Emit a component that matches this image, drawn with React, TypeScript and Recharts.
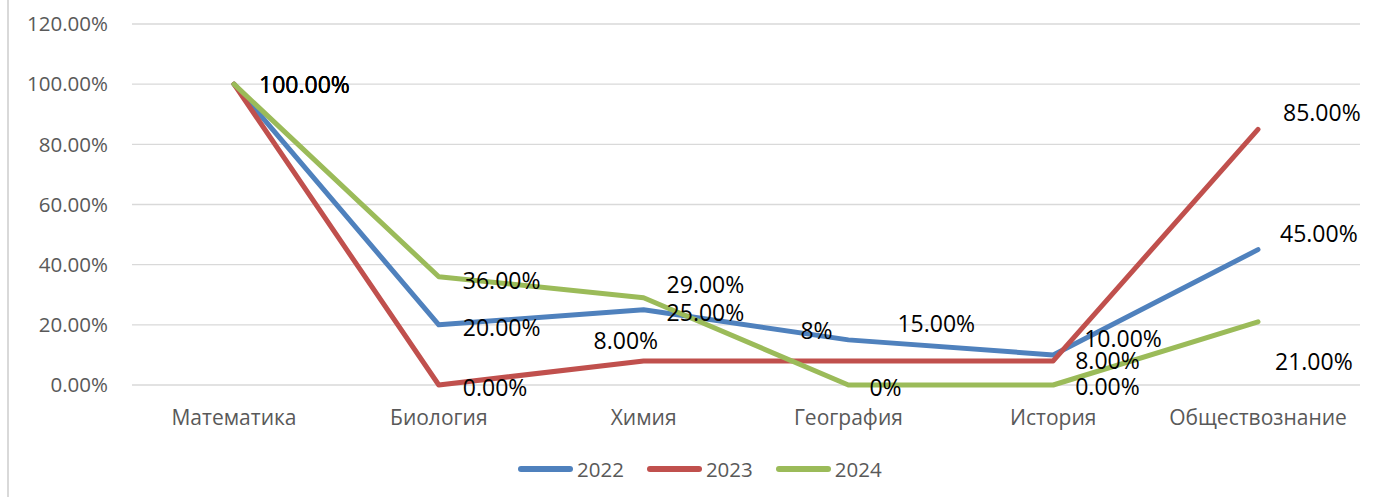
import { LineChart, Line, XAxis, YAxis, CartesianGrid, Legend, LabelList } from "recharts";

document.body.style.margin = "0";

const subjects = ["Математика", "Биология", "Химия", "География", "История", "Обществознание"];
const values2022 = [100, 20, 25, 15, 10, 45];
const values2023 = [100, 0, 8, 8, 8, 85];
const values2024 = [100, 36, 29, 0, 0, 21];
const yTicks = [0, 20, 40, 60, 80, 100, 120];

// decimals in each data label (a few were typed as "8%" / "0%")
const decimals2022 = [2, 2, 2, 2, 2, 2];
const decimals2023 = [2, 2, 2, 0, 2, 2];
const decimals2024 = [2, 2, 2, 0, 2, 2];

// label nudges [dx, dy] from the point, the original had hand-moved labels
const shift2022 = [[25, 0], [24, 2], [23, 2], [49, -17], [31, -17], [22, -17]];
const shift2023 = [[25, 0], [24, 2], [-50, -21], [-48, -31], [22, -1], [25, -17]];
const shift2024 = [[25, 0], [24, 3], [23, -14], [21, 2], [22, 1], [17, 39]];

const FONT = "'Open Sans', sans-serif";
const GRAY = "#595959";

const series = [
  { key: "y2022", name: "2022", color: "#4F81BD", decimals: decimals2022, shift: shift2022 },
  { key: "y2023", name: "2023", color: "#C0504D", decimals: decimals2023, shift: shift2023 },
  { key: "y2024", name: "2024", color: "#9BBB59", decimals: decimals2024, shift: shift2024 },
];

const data = subjects.map((subject, i) => ({
  subject,
  y2022: values2022[i],
  y2023: values2023[i],
  y2024: values2024[i],
}));

function makeLabel(s: (typeof series)[number]) {
  return (props: any) => {
    const { x, y, index, value } = props;
    const [dx, dy] = s.shift[index];
    return (
      <text
        x={x + dx}
        y={y + dy}
        dominantBaseline="central"
        fill="#000"
        fontSize={23}
        fontFamily={FONT}
      >
        {`${Number(value).toFixed(s.decimals[index])}%`}
      </text>
    );
  };
}

function CategoryTick(props: any) {
  const { x, y, payload } = props;
  return (
    <text x={x} y={y + 32} textAnchor="middle" dominantBaseline="central" fill={GRAY} fontSize={21} fontFamily={FONT}>
      {payload.value}
    </text>
  );
}

function LegendBox() {
  return (
    <div style={{ height: 40, display: "flex", alignItems: "center", paddingLeft: 518, fontFamily: FONT }}>
      {series.map((s) => (
        <div key={s.key} style={{ display: "flex", alignItems: "center", marginRight: 23 }}>
          <svg width={55} height={8} style={{ marginRight: 4 }}>
            <line x1={3} y1={4} x2={52} y2={4} stroke={s.color} strokeWidth={6} strokeLinecap="round" />
          </svg>
          <span style={{ fontSize: 20.5, color: GRAY }}>{s.name}</span>
        </div>
      ))}
    </div>
  );
}

export default function App() {
  return (
    <div style={{ position: "relative", width: 1379, height: 497, background: "#fff" }}>
      <div style={{ position: "absolute", left: 7, top: 0, width: 1.5, height: 497, background: "#d9d9d9" }} />
      <LineChart
        width={1379}
        height={497}
        data={data}
        margin={{ top: 24, right: 19, bottom: 8, left: 12 }}
        style={{ fontFamily: FONT }}
      >
        <CartesianGrid vertical={false} stroke="#d9d9d9" strokeWidth={1.3} />
        <XAxis
          dataKey="subject"
          axisLine={false}
          tickLine={false}
          tickSize={0}
          tickMargin={0}
          height={64}
          interval={0}
          padding={{ left: 102, right: 102 }}
          tick={<CategoryTick />}
        />
        <YAxis
          type="number"
          domain={[0, 120]}
          ticks={yTicks}
          axisLine={false}
          tickLine={false}
          tickSize={0}
          tickMargin={24}
          width={120}
          tickFormatter={(v: number) => `${v.toFixed(2)}%`}
          tick={{ fill: GRAY, fontSize: 20.5, fontFamily: FONT }}
        />
        <Legend verticalAlign="bottom" wrapperStyle={{ left: 0, width: 1379 }} content={<LegendBox />} />
        {series.map((s) => (
          <Line
            key={s.key}
            type="linear"
            dataKey={s.key}
            name={s.name}
            stroke={s.color}
            strokeWidth={5}
            strokeLinejoin="round"
            strokeLinecap="round"
            dot={false}
            isAnimationActive={false}
          />
        ))}
        {/* labels drawn after all the lines so the text sits on top */}
        {series.map((s) => (
          <Line
            key={`${s.key}-labels`}
            type="linear"
            dataKey={s.key}
            stroke="none"
            dot={false}
            legendType="none"
            isAnimationActive={false}
          >
            <LabelList dataKey={s.key} content={makeLabel(s)} />
          </Line>
        ))}
      </LineChart>
    </div>
  );
}
